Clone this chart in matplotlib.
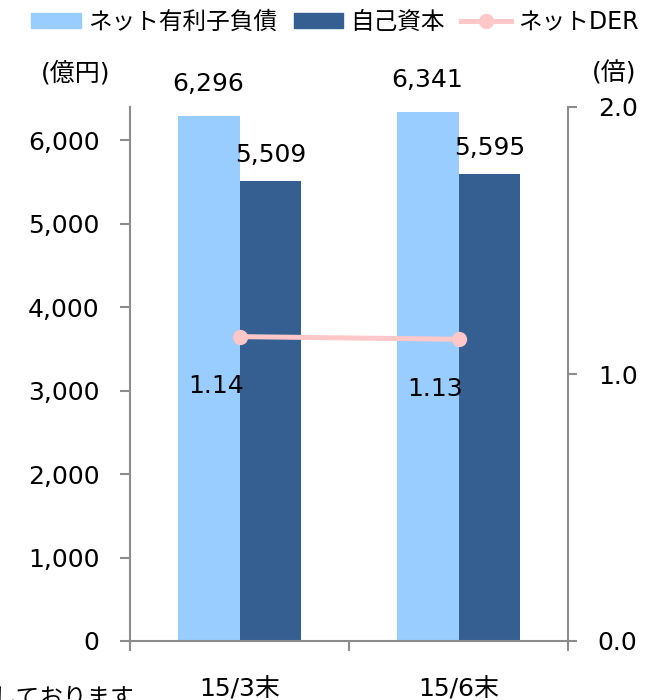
import matplotlib
matplotlib.use("Agg")
import matplotlib.pyplot as plt
from matplotlib.patches import Patch
from matplotlib.lines import Line2D
import numpy as np

plt.rcParams['font.family'] = ['DejaVu Sans', 'Noto Sans CJK JP']

# data
periods = ["15/3末", "15/6末"]
net_debt = [6296, 6341]       # ネット有利子負債 (億円)
equity = [5509, 5595]         # 自己資本 (億円)
net_der = [1.14, 1.13]        # ネットDER (倍)
left_ticks = [0, 1000, 2000, 3000, 4000, 5000, 6000]
right_ticks = [0.0, 1.0, 2.0]

c_debt = "#99CCFF"
c_eq = "#355F91"
c_der = "#FFC7C7"
c_axis = "#8C8C8C"
fs = 17      # legend / japanese text
fn = 18      # numbers

fig = plt.figure(figsize=(6.45, 7.0), dpi=100)
ax = fig.add_axes([130 / 645, 1 - 641 / 700, 438 / 645, 534 / 700])
ax2 = ax.twinx()

x = np.arange(len(periods))
w = 0.283
ax.bar(x - w / 2, net_debt, w, color=c_debt, zorder=2)
ax.bar(x + w / 2, equity, w, color=c_eq, zorder=2)

for xi, v in zip(x - w / 2, net_debt):
    ax.annotate(f"{v:,}", (xi, v), xytext=(0, 14), textcoords="offset points",
                ha="center", va="bottom", fontsize=fn)
for xi, v in zip(x + w / 2, equity):
    ax.annotate(f"{v:,}", (xi, v), xytext=(0, 10), textcoords="offset points",
                ha="center", va="bottom", fontsize=fn)

ax2.plot(x, net_der, color=c_der, lw=3.6, marker="o", ms=10, zorder=3)
for xi, v in zip(x, net_der):
    ax2.annotate(f"{v:.2f}", (xi, v), xytext=(-17, -27), textcoords="offset points",
                 ha="center", va="top", fontsize=fn)

ax.set_xlim(-0.5, 1.5)
ax.set_ylim(0, 6400)
ax2.set_ylim(0, 2.0)

ax.set_yticks(left_ticks)
ax.set_yticklabels([f"{t:,}" for t in left_ticks])
ax2.set_yticks(right_ticks)
ax2.set_yticklabels([f"{t:.1f}" for t in right_ticks])

ax.set_xticks(x)
ax.set_xticklabels(periods)
ax.set_xticks([-0.5, 0.5, 1.5], minor=True)
ax.tick_params(axis="x", which="major", length=0, pad=26, labelsize=fn)
ax.tick_params(axis="x", which="minor", length=7, width=1.5, color=c_axis, direction="out")
ax.tick_params(axis="y", length=7, width=1.5, color=c_axis, direction="out", pad=15, labelsize=fn)
ax2.tick_params(axis="y", length=6.5, width=1.5, color=c_axis, direction="out", pad=15, labelsize=fn)

for a in (ax, ax2):
    a.spines["top"].set_visible(False)
    for s in ("left", "right", "bottom"):
        a.spines[s].set_color(c_axis)
        a.spines[s].set_linewidth(1.5)
ax.spines["right"].set_visible(False)
ax2.spines["left"].set_visible(False)
ax2.spines["bottom"].set_visible(False)

fig.text(76 / 645, 1 - 73 / 700, "(億円)", ha="center", va="center", fontsize=fn)
fig.text(614 / 645, 1 - 73 / 700, "(倍)", ha="center", va="center", fontsize=fn)
fig.text(-8 / 645, 1 - 686 / 700, "しております", ha="left", va="top", fontsize=fs)

handles = [
    Patch(color=c_debt),
    Patch(color=c_eq),
    Line2D([], [], color=c_der, lw=3.6, marker="o", ms=10),
]
labels = ["ネット有利子負債", "自己資本", "ネットDER"]
fig.legend(handles, labels, loc="center", bbox_to_anchor=(335 / 645, 1 - 22 / 700),
           ncol=3, frameon=False, fontsize=fs, handlelength=2.1, handleheight=0.6,
           handletextpad=0.3, columnspacing=0.7, borderpad=0, borderaxespad=0)

fig.savefig("out.png", dpi=100)
